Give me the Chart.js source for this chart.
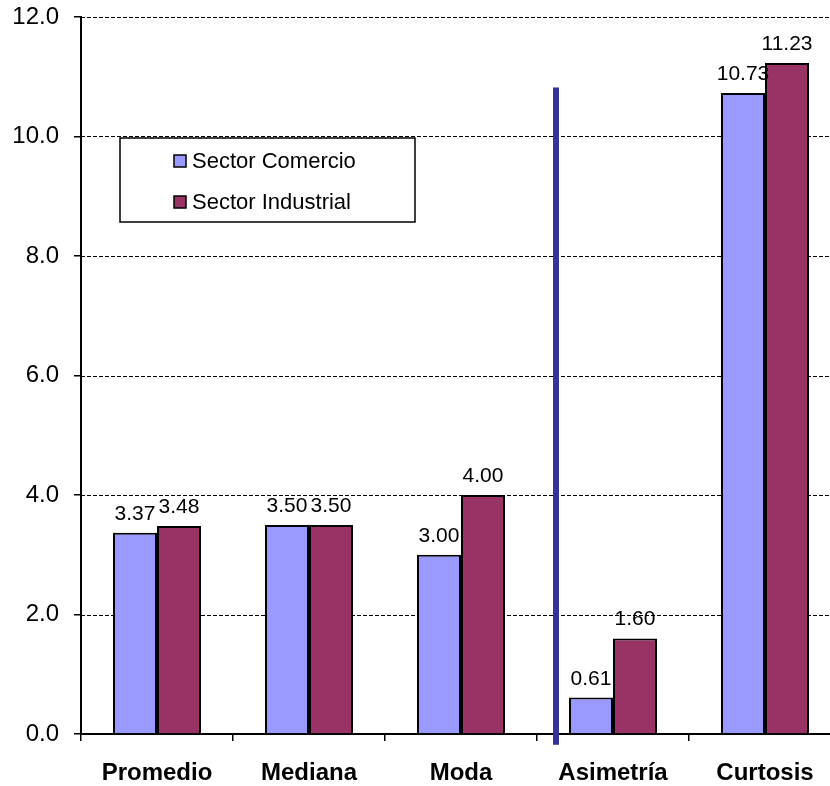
<!DOCTYPE html>
<html>
<head>
<meta charset="utf-8">
<script src="https://cdn.jsdelivr.net/npm/chart.js@4/dist/chart.umd.min.js"></script>
<style>
  html, body { margin: 0; padding: 0; background: #fff; overflow: hidden; }
  canvas { display: block; }
</style>
</head>
<body>
<canvas id="c" width="842" height="786"></canvas>
<script>
// Estadísticos descriptivos por sector
const categories = ['Promedio', 'Mediana', 'Moda', 'Asimetría', 'Curtosis'];
const comercio   = [3.37, 3.50, 3.00, 0.61, 10.73];
const industrial = [3.48, 3.50, 4.00, 1.60, 11.23];
const seriesNames = ['Sector Comercio', 'Sector Industrial'];
const seriesColors = ['#9999FF', '#993366'];
const yMin = 0, yMax = 12, yStep = 2;

// Divider between the central-tendency and shape statistics (category index, value range)
const dividerAt = 2.625;
const dividerFrom = -0.18, dividerTo = 10.82;

const FONT = '"Liberation Sans", Arial, sans-serif';

const dashedGrid = {
  id: 'dashedGrid',
  beforeDatasetsDraw(chart) {
    const { ctx, chartArea, scales: { y } } = chart;
    ctx.save();
    ctx.strokeStyle = '#000';
    ctx.lineWidth = 1;
    ctx.setLineDash([4, 2]);
    y.ticks.forEach(t => {
      if (t.value <= yMin) return;
      const py = Math.round(y.getPixelForValue(t.value)) + 0.5;
      ctx.beginPath();
      ctx.moveTo(chartArea.left, py);
      ctx.lineTo(chartArea.right, py);
      ctx.stroke();
    });
    ctx.restore();
  }
};

const valueLabels = {
  id: 'valueLabels',
  afterDatasetsDraw(chart) {
    const { ctx } = chart;
    ctx.save();
    ctx.font = '21px ' + FONT;
    ctx.fillStyle = '#000';
    ctx.textAlign = 'center';
    ctx.textBaseline = 'alphabetic';
    chart.data.datasets.forEach((ds, i) => {
      chart.getDatasetMeta(i).data.forEach((bar, j) => {
        ctx.fillText(ds.data[j].toFixed(2), bar.x, bar.y - 13);
      });
    });
    ctx.restore();
  }
};

const divider = {
  id: 'divider',
  afterDatasetsDraw(chart) {
    const { ctx, scales: { x, y } } = chart;
    const px = x.getPixelForValue(dividerAt);
    ctx.save();
    ctx.strokeStyle = '#333399';
    ctx.lineWidth = 6;
    ctx.beginPath();
    ctx.moveTo(px, y.getPixelForValue(dividerTo));
    ctx.lineTo(px, y.getPixelForValue(dividerFrom));
    ctx.stroke();
    ctx.restore();
  }
};

const boxLegend = {
  id: 'boxLegend',
  afterDraw(chart) {
    const { ctx, chartArea } = chart;
    const left = chartArea.left + 39, top = chartArea.top + 121;
    const w = 295, h = 84;
    ctx.save();
    ctx.fillStyle = '#fff';
    ctx.fillRect(left, top, w, h);
    ctx.strokeStyle = '#000';
    ctx.lineWidth = 1.5;
    ctx.strokeRect(left, top, w, h);
    ctx.font = '22px ' + FONT;
    ctx.textBaseline = 'middle';
    ctx.textAlign = 'left';
    chart.data.datasets.forEach((ds, i) => {
      const cy = top + 23 + i * 41;
      ctx.fillStyle = ds.backgroundColor;
      ctx.fillRect(left + 54, cy - 6, 12, 12);
      ctx.lineWidth = 1.5;
      ctx.strokeRect(left + 54, cy - 6, 12, 12);
      ctx.fillStyle = '#000';
      ctx.fillText(ds.label, left + 72, cy + 1);
    });
    ctx.restore();
  }
};

new Chart(document.getElementById('c'), {
  type: 'bar',
  data: {
    labels: categories,
    datasets: [
      { label: seriesNames[0], data: comercio, backgroundColor: seriesColors[0],
        borderColor: '#000', borderWidth: 2 },
      { label: seriesNames[1], data: industrial, backgroundColor: seriesColors[1],
        borderColor: '#000', borderWidth: 2 }
    ]
  },
  options: {
    responsive: false,
    animation: false,
    devicePixelRatio: 1,
    layout: { padding: { top: 0, right: 1, bottom: 0, left: 0 } },
    datasets: { bar: { barPercentage: 1, categoryPercentage: 0.579 } },
    plugins: { legend: { display: false }, tooltip: { enabled: false } },
    scales: {
      x: {
        offset: true,
        grid: { display: true, drawOnChartArea: false, drawTicks: true, tickLength: 7,
                color: '#000', lineWidth: 1.5, offset: true },
        border: { display: true, color: '#000', width: 2 },
        ticks: { color: '#000', padding: 18, maxRotation: 0,
                 font: { family: FONT, size: 24, weight: 'bold' } },
        afterFit(s) { s.height = 52; }
      },
      y: {
        min: yMin, max: yMax,
        grid: { display: true, drawOnChartArea: false, drawTicks: true, tickLength: 7,
                color: '#000', lineWidth: 1.5 },
        border: { display: true, color: '#000', width: 2 },
        ticks: { stepSize: yStep, color: '#000', padding: 15,
                 font: { family: FONT, size: 24 },
                 callback: v => Number(v).toFixed(1) },
        afterFit(s) { s.width = 81; s.paddingTop = 17; s.paddingBottom = 0; }
      }
    }
  },
  plugins: [dashedGrid, valueLabels, divider, boxLegend]
});
</script>
</body>
</html>
